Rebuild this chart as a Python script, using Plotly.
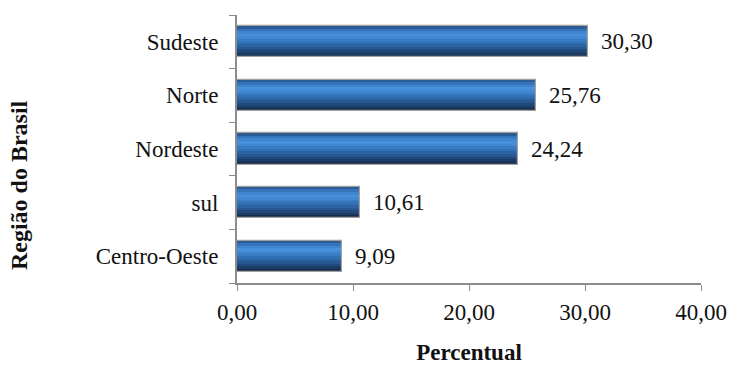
import plotly.graph_objects as go

# Data (bottom to top)
regioes = ["Centro-Oeste", "sul", "Nordeste", "Norte", "Sudeste"]
percentual = [9.09, 10.61, 24.24, 25.76, 30.30]
rotulos = ["9,09", "10,61", "24,24", "25,76", "30,30"]
x_ticks = [0, 10, 20, 30, 40]

FONT = "Liberation Serif"
FS = 23

# gradient bands top -> bottom
band_colors = ["#2b5c95", "#3573bb", "#3f85d0", "#4790dc", "#4189d4", "#387cc4",
               "#3270b4", "#2c64a3", "#275891", "#214a7c", "#1b3c66", "#152c4c"]
BAR_W = 0.58
n = len(band_colors)
bw = BAR_W / n

fig = go.Figure()
for i, c in enumerate(band_colors):
    off = BAR_W / 2 - (i + 1) * bw
    fig.add_trace(go.Bar(
        y=regioes, x=percentual, orientation="h",
        width=bw * 1.06, offset=off,
        marker=dict(color=c, line=dict(width=0)),
        hoverinfo="skip", showlegend=False,
    ))
# outline
fig.add_trace(go.Bar(
    y=regioes, x=percentual, orientation="h",
    width=BAR_W, offset=-BAR_W / 2,
    marker=dict(color="rgba(0,0,0,0)", line=dict(color="#a0a0a0", width=1.2)),
    showlegend=False,
))

for r, v, t in zip(regioes, percentual, rotulos):
    fig.add_annotation(x=v, y=r, text=t, showarrow=False, xanchor="left",
                       xshift=11, font=dict(family=FONT, size=FS, color="#111111"))

# y axis title centred on the whole figure height
fig.add_annotation(
    text="<b>Região do Brasil</b>", textangle=-90,
    xref="paper", yref="paper", x=-0.47, y=0.365,
    xanchor="center", yanchor="middle", showarrow=False,
    font=dict(family=FONT, size=FS + 1, color="#111111"),
)

fig.update_layout(
    width=730, height=365,
    margin=dict(l=237, r=29, t=15, b=82),
    barmode="overlay",
    bargap=0,
    plot_bgcolor="white", paper_bgcolor="white",
    separators=",.",
    font=dict(family=FONT, size=FS, color="#111111"),
)
fig.update_xaxes(
    range=[0, 40], tickvals=x_ticks, tickformat=".2f",
    showgrid=False, zeroline=False, automargin=False,
    showline=True, linecolor="#8c8c8c", linewidth=2,
    ticks="outside", ticklen=6, tickcolor="#8c8c8c", tickwidth=1,
    ticklabelstandoff=1,
    tickfont=dict(family=FONT, size=FS),
    title=dict(text="<b>Percentual</b>", font=dict(family=FONT, size=FS), standoff=24),
)
fig.update_yaxes(
    type="category", categoryorder="array", categoryarray=regioes,
    range=[-0.5, 4.5],
    showgrid=False, zeroline=False, automargin=False,
    showline=True, linecolor="#8c8c8c", linewidth=2,
    ticks="outside", ticklen=6, tickcolor="#8c8c8c", tickwidth=1,
    tickson="boundaries", ticklabelstandoff=12,
    tickfont=dict(family=FONT, size=FS),
)

fig.write_html("out.html")
